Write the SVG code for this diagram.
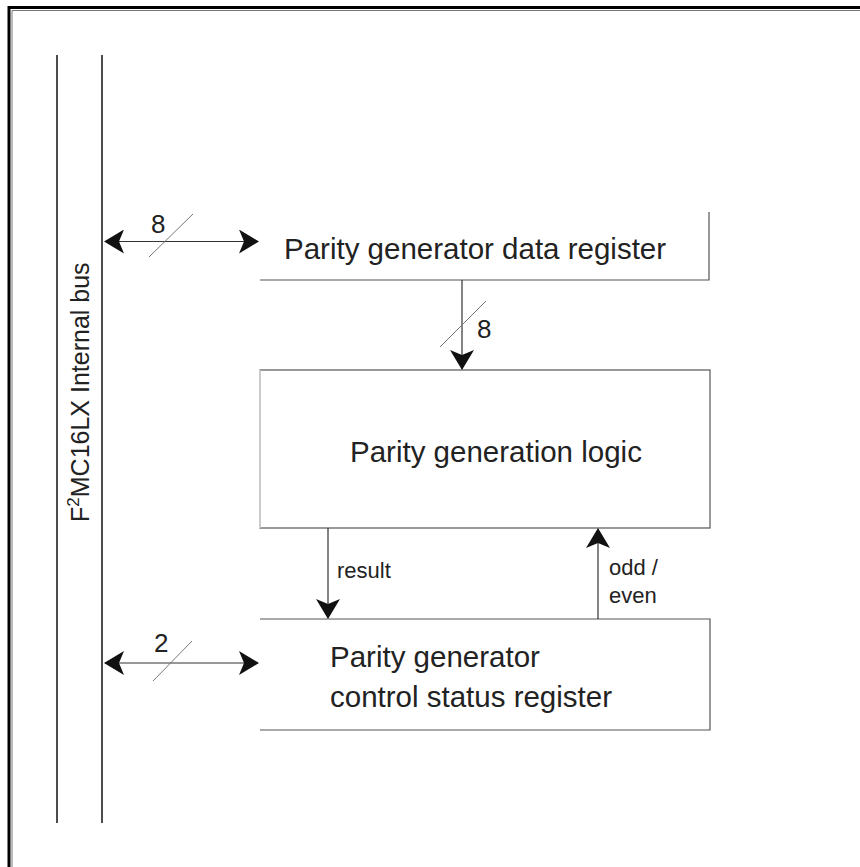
<svg xmlns="http://www.w3.org/2000/svg" width="860" height="867" viewBox="0 0 860 867">
<style>
.t{font-family:"Liberation Sans",Arial,sans-serif;fill:#222}
.big{font-size:29.5px}
.num{font-size:26px}
.sm{font-size:22px}
.ln{stroke:#333;stroke-width:1.2;fill:none}
.box{stroke:#555;stroke-width:1.2;fill:none}
.sl{stroke:#777;stroke-width:1;fill:none}
</style>
<defs>
<marker id="ah" viewBox="0 0 20 24" refX="19" refY="12" markerWidth="20" markerHeight="24" markerUnits="userSpaceOnUse" orient="auto-start-reverse">
<path d="M0,0 L20,12 L0,24 L5,12 Z" fill="#111"/>
</marker>
</defs>
<rect width="860" height="867" fill="#fff"/>
<g id="frame">
<path d="M9,867 V7.5 H860" stroke="#000" stroke-width="3" fill="none"/>
<path d="M12,867 V10.5 H860" stroke="#777" stroke-width="1" fill="none"/>
</g>
<g id="bus">
<line x1="57" y1="55" x2="57" y2="823" stroke="#111" stroke-width="1.5"/>
<line x1="102" y1="55" x2="102" y2="823" stroke="#111" stroke-width="1.5"/>
<text class="t" font-size="25" transform="translate(89,522) rotate(-90)">F<tspan font-size="17" dy="-10">2</tspan><tspan dy="10">MC16LX Internal bus</tspan></text>
</g>
<g id="data-register">
<path class="box" d="M260,280 H709 V212"/>
<text class="t big" x="284" y="259">Parity generator data register</text>
</g>
<g id="logic">
<rect x="260" y="370" width="450" height="158" fill="none" stroke="#555" stroke-width="1.2"/>
<line x1="260" y1="370" x2="260" y2="528" stroke="#ddd" stroke-width="1.5"/>
<text class="t big" x="350" y="462">Parity generation logic</text>
</g>
<g id="csr">
<path class="box" d="M260,619 H710 V730 H260"/>
<text class="t big" x="330" y="667">Parity generator</text>
<text class="t big" x="330" y="707">control status register</text>
</g>
<g id="connectors">
<line class="ln" x1="105" y1="241.5" x2="258" y2="241.5" marker-start="url(#ah)" marker-end="url(#ah)"/>
<line class="sl" x1="149" y1="257" x2="193" y2="214"/>
<text class="t num" x="151" y="233">8</text>
<line class="ln" x1="462" y1="280" x2="462" y2="369" marker-end="url(#ah)"/>
<line class="sl" x1="440" y1="347" x2="486" y2="301"/>
<text class="t num" x="477" y="338">8</text>
<line class="ln" x1="328" y1="528" x2="328" y2="618" marker-end="url(#ah)"/>
<text class="t sm" x="337" y="578">result</text>
<line class="ln" x1="598" y1="619" x2="598" y2="529" marker-end="url(#ah)"/>
<text class="t sm" x="609" y="575">odd /</text>
<text class="t sm" x="609" y="603">even</text>
<line class="ln" x1="105" y1="663" x2="258" y2="663" marker-start="url(#ah)" marker-end="url(#ah)"/>
<line class="sl" x1="153" y1="681" x2="192" y2="641"/>
<text class="t num" x="154" y="652">2</text>
</g>
</svg>
